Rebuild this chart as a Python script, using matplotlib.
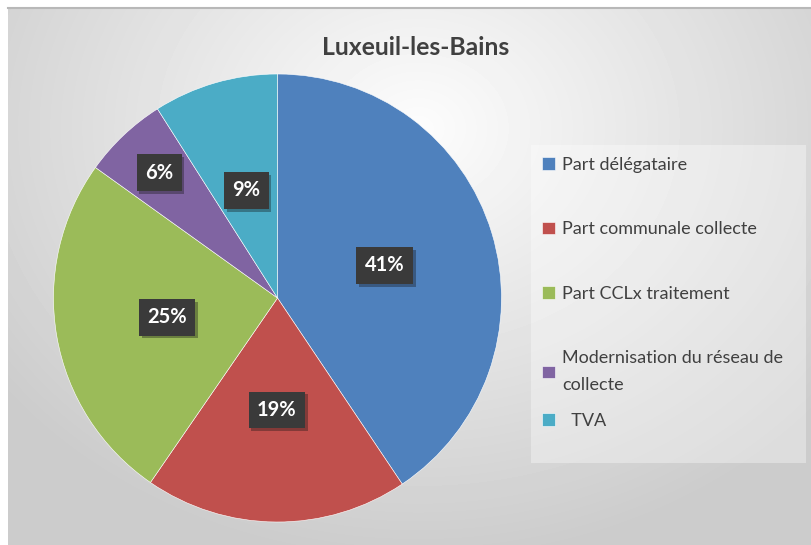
import numpy as np
import matplotlib.pyplot as plt
from matplotlib.patches import Rectangle
from matplotlib.lines import Line2D
import matplotlib.patheffects as pe

plt.rcParams['font.family'] = ['Lato', 'DejaVu Sans']

# data
labels = ['Part délégataire', 'Part communale collecte', 'Part CCLx traitement',
          'Modernisation du réseau de\ncollecte', '  TVA']
shares = [40.6, 19.0, 25.3, 6.1, 9.0]
colors = ['#4f81bd', '#c0504d', '#9bbb59', '#8064a2', '#4bacc6']
title = 'Luxeuil-les-Bains'

W, H = 811, 545
fig = plt.figure(figsize=(W / 100, H / 100), dpi=100)
fig.patch.set_facecolor('white')

# radial grey background of the chart area
bg = fig.add_axes([8 / W, 0, 1 - 8 / W, 1 - 8 / H])
yy, xx = np.mgrid[0:537, 0:803]
d = np.sqrt(((xx - 410) / 520.0) ** 2 + ((yy - 120) / 430.0) ** 2)
shade = 0.99 - 0.19 * np.clip(d, 0, 1)
bg.imshow(shade, cmap='gray', vmin=0, vmax=1, aspect='auto')
bg.axis('off')
fig.add_artist(Line2D([8 / W, 1], [1 - 8 / H] * 2, color='#b8b8b8', lw=1.5))

# legend panel
fig.add_artist(Rectangle((531 / W, 1 - 463 / H), 275 / W, 318 / H,
                         transform=fig.transFigure, facecolor='white',
                         alpha=0.35, edgecolor='none'))

fig.text(0.512, 0.912, title, ha='center', va='center', fontsize=17.8,
         fontweight='bold', color='#404040')

# pie
ax = fig.add_axes([53.5 / W, 1 - 522 / H, 448 / W, 448 / H])
wedges, texts, autotexts = ax.pie(
    shares, colors=colors, startangle=90, counterclock=False,
    autopct='%.0f%%', pctdistance=0.5,
    wedgeprops=dict(edgecolor='white', linewidth=0.4),
    textprops=dict(color='white', fontsize=14.5, fontweight='bold'))
ax.set_xlim(-1, 1)
ax.set_ylim(-1, 1)

# small slice label sits further out
x, y = autotexts[3].get_position()
autotexts[3].set_position((x * 1.54, y * 1.54))

for t in autotexts:
    t.set_bbox(dict(boxstyle='square,pad=0.42', facecolor='#3a3a3a', edgecolor='none'))
    t.get_bbox_patch().set_path_effects([
        pe.SimplePatchShadow(offset=(2, -2), alpha=0.35), pe.Normal()])

leg_style = dict(frameon=False, fontsize=13, labelcolor='#404040',
                 handlelength=0.7, handleheight=0.7, handletextpad=0.4,
                 borderpad=0, borderaxespad=0)

# Excel spaces the last entry tighter, so it gets its own legend
leg = fig.legend(wedges[:4], labels[:4], loc='upper left',
                 bbox_to_anchor=(542 / W, 1 - 157 / H), labelspacing=2.68,
                 **leg_style)
for t in leg.get_texts():
    t.set_linespacing(1.85)
fig.legend(wedges[4:], labels[4:], loc='center left',
           bbox_to_anchor=(542 / W, 1 - 421 / H), **leg_style)

fig.savefig('out.png', dpi=100)
